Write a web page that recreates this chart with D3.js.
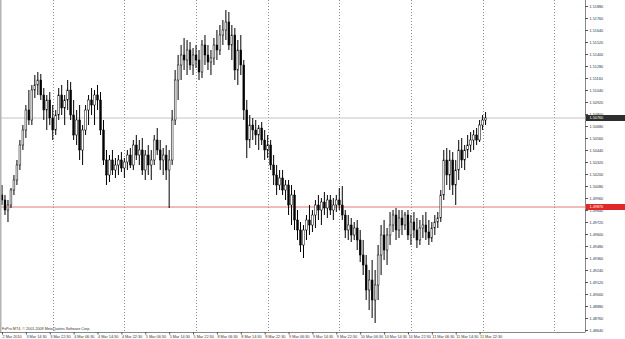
<!DOCTYPE html>
<html><head><meta charset="utf-8">
<script src="https://cdn.jsdelivr.net/npm/d3@7"></script>
<style>html,body{margin:0;padding:0;background:#fff;overflow:hidden}</style>
</head><body><svg id="c" width="625" height="339"></svg>
<script>
// GBPUSD H1, 2 Mar - 11 Mar 2010
const opens=[
1.4999,1.4994,1.4984,1.4989,1.5004,1.5014,1.5029,1.5049,1.5064,1.5084,
1.5074,1.5104,1.5109,1.5114,1.5099,1.5084,1.5094,1.5076,1.5064,1.5079,
1.5099,1.5086,1.5094,1.5104,1.5079,1.5059,1.5074,1.5044,1.5064,1.5084,
1.5094,1.5089,1.5099,1.5094,1.5064,1.5034,1.5019,1.5034,1.5024,1.5029,
1.5034,1.5026,1.5032,1.5039,1.5029,1.5049,1.5039,1.5044,1.5024,1.5039,
1.5029,1.5034,1.5054,1.5044,1.5034,1.5039,1.5024,1.5034,1.5074,1.5114,
1.5129,1.5139,1.5134,1.5144,1.5129,1.5139,1.5134,1.5122,1.5149,1.5139,
1.5132,1.5136,1.5149,1.5144,1.5159,1.5164,1.5172,1.5149,1.5159,1.5124,
1.5144,1.5129,1.5084,1.5054,1.5069,1.5064,1.5059,1.5066,1.5054,1.5044,
1.5049,1.5029,1.5019,1.5009,1.5016,1.5004,1.5009,1.4989,1.4999,1.4974,
1.4964,1.4949,1.4964,1.4974,1.4969,1.4979,1.4989,1.4984,1.4992,1.4986,
1.4994,1.4984,1.4989,1.4994,1.4989,1.4979,1.4964,1.4969,1.4959,1.4966,
1.4954,1.4939,1.4929,1.4904,1.4914,1.4894,1.4909,1.4939,1.4959,1.4944,
1.4959,1.4969,1.4979,1.4964,1.4976,1.4969,1.4979,1.4959,1.4972,1.4964,
1.4954,1.4966,1.4969,1.4962,1.4956,1.4966,1.4972,1.4976,1.4999,1.5034,
1.5019,1.5034,1.5009,1.5024,1.5044,1.5034,1.5044,1.5049,1.5054,1.5059,
1.5054,1.5069,1.5074];
const highs=[
1.5009,1.4999,1.4994,1.5006,1.5019,1.5034,1.5054,1.5069,1.5089,1.5104,
1.5109,1.5119,1.5122,1.5120,1.5106,1.5099,1.5102,1.5089,1.5084,1.5106,
1.5109,1.5099,1.5114,1.5112,1.5094,1.5084,1.5089,1.5069,1.5089,1.5099,
1.5106,1.5104,1.5109,1.5102,1.5074,1.5044,1.5039,1.5044,1.5036,1.5039,
1.5042,1.5036,1.5044,1.5046,1.5054,1.5059,1.5054,1.5056,1.5044,1.5049,
1.5044,1.5059,1.5066,1.5054,1.5046,1.5049,1.5044,1.5084,1.5124,1.5139,
1.5149,1.5156,1.5154,1.5152,1.5146,1.5149,1.5144,1.5154,1.5159,1.5149,
1.5144,1.5156,1.5164,1.5169,1.5174,1.5184,1.5182,1.5169,1.5166,1.5154,
1.5159,1.5134,1.5094,1.5079,1.5076,1.5074,1.5069,1.5072,1.5064,1.5059,
1.5054,1.5039,1.5029,1.5024,1.5024,1.5014,1.5014,1.5009,1.5004,1.4984,
1.4972,1.4969,1.4979,1.4989,1.4984,1.4994,1.4999,1.4996,1.5002,1.4999,
1.4999,1.4996,1.4999,1.5006,1.5008,1.4984,1.4979,1.4976,1.4972,1.4974,
1.4964,1.4954,1.4939,1.4924,1.4934,1.4924,1.4949,1.4969,1.4974,1.4966,
1.4982,1.4984,1.4986,1.4984,1.4984,1.4982,1.4984,1.4979,1.4982,1.4976,
1.4974,1.4979,1.4982,1.4974,1.4972,1.4979,1.4982,1.5004,1.5044,1.5046,
1.5044,1.5042,1.5034,1.5054,1.5056,1.5049,1.5059,1.5062,1.5064,1.5066,
1.5074,1.5079,1.5082];
const lows=[
1.4989,1.4979,1.4972,1.4986,1.4999,1.5009,1.5024,1.5044,1.5056,1.5069,
1.5069,1.5096,1.5099,1.5094,1.5074,1.5064,1.5069,1.5054,1.5059,1.5074,
1.5079,1.5069,1.5084,1.5074,1.5054,1.5049,1.5034,1.5029,1.5059,1.5069,
1.5079,1.5069,1.5084,1.5059,1.5029,1.5009,1.5012,1.5019,1.5016,1.5019,
1.5022,1.5016,1.5024,1.5026,1.5024,1.5034,1.5029,1.5019,1.5014,1.5019,
1.5014,1.5029,1.5039,1.5024,1.5019,1.5014,1.4986,1.5029,1.5069,1.5094,
1.5114,1.5124,1.5119,1.5124,1.5119,1.5126,1.5114,1.5116,1.5129,1.5124,
1.5119,1.5129,1.5134,1.5139,1.5149,1.5154,1.5144,1.5134,1.5114,1.5109,
1.5119,1.5074,1.5036,1.5046,1.5054,1.5049,1.5044,1.5049,1.5034,1.5036,
1.5024,1.5009,1.4999,1.5004,1.4999,1.4994,1.4979,1.4969,1.4964,1.4954,
1.4942,1.4936,1.4954,1.4959,1.4962,1.4966,1.4974,1.4969,1.4979,1.4976,
1.4979,1.4974,1.4982,1.4984,1.4974,1.4956,1.4954,1.4952,1.4954,1.4944,
1.4932,1.4919,1.4894,1.4884,1.4876,1.4871,1.4894,1.4919,1.4934,1.4929,
1.4949,1.4962,1.4954,1.4956,1.4959,1.4964,1.4954,1.4949,1.4956,1.4946,
1.4949,1.4956,1.4954,1.4949,1.4952,1.4959,1.4966,1.4972,1.4994,1.5009,
1.5004,1.4999,1.4989,1.5014,1.5026,1.5024,1.5036,1.5042,1.5044,1.5049,
1.5052,1.5064,1.5069];
const closes=[
1.4994,1.4984,1.4989,1.5004,1.5014,1.5029,1.5049,1.5064,1.5084,1.5074,
1.5104,1.5109,1.5114,1.5099,1.5084,1.5094,1.5076,1.5064,1.5079,1.5099,
1.5086,1.5094,1.5104,1.5079,1.5059,1.5074,1.5044,1.5064,1.5084,1.5094,
1.5089,1.5099,1.5094,1.5064,1.5034,1.5019,1.5034,1.5024,1.5029,1.5034,
1.5026,1.5032,1.5039,1.5029,1.5049,1.5039,1.5044,1.5024,1.5039,1.5029,
1.5034,1.5054,1.5044,1.5034,1.5039,1.5024,1.5034,1.5074,1.5114,1.5129,
1.5139,1.5134,1.5144,1.5129,1.5139,1.5134,1.5122,1.5149,1.5139,1.5132,
1.5136,1.5149,1.5144,1.5159,1.5164,1.5172,1.5149,1.5159,1.5124,1.5144,
1.5129,1.5084,1.5054,1.5069,1.5064,1.5059,1.5066,1.5054,1.5044,1.5049,
1.5029,1.5019,1.5009,1.5016,1.5004,1.5009,1.4989,1.4999,1.4974,1.4964,
1.4949,1.4964,1.4974,1.4969,1.4979,1.4989,1.4984,1.4992,1.4986,1.4994,
1.4984,1.4989,1.4994,1.4989,1.4979,1.4964,1.4969,1.4959,1.4966,1.4954,
1.4939,1.4929,1.4904,1.4914,1.4894,1.4909,1.4939,1.4959,1.4944,1.4959,
1.4969,1.4979,1.4964,1.4976,1.4969,1.4979,1.4959,1.4972,1.4964,1.4954,
1.4966,1.4969,1.4962,1.4956,1.4966,1.4972,1.4976,1.4999,1.5034,1.5019,
1.5034,1.5009,1.5024,1.5044,1.5034,1.5044,1.5049,1.5054,1.5059,1.5054,
1.5069,1.5074,1.5076];
const timeLabels=["2 Mar 2010","3 Mar 14:30","3 Mar 22:30","4 Mar 06:30","4 Mar 14:30","4 Mar 22:30",
"5 Mar 06:30","5 Mar 14:30","5 Mar 22:30","8 Mar 06:30","8 Mar 14:30","8 Mar 22:30","9 Mar 06:30",
"9 Mar 14:30","9 Mar 22:30","10 Mar 06:30","10 Mar 14:30","10 Mar 22:30","11 Mar 06:30","11 Mar 14:30","11 Mar 22:30"];
const timeLabelBars=[0,8,16,24,32,40,48,56,64,72,80,88,96,104,112,120,128,136,144,152,160];
const daySeparatorBars=[17,41,65,89,113,137,161,185];
const priceTicks=[1.5188,1.5176,1.5164,1.5152,1.5140,1.5128,1.5116,1.5104,1.5092,1.5080,1.5068,1.5056,
1.5044,1.5032,1.5020,1.5008,1.4996,1.4984,1.4972,1.4960,1.4948,1.4936,1.4924,1.4912,1.4900,1.4888,1.4876,1.4864];
const bidPrice=1.5076;
const levelPrice=1.4987;
const copyright="FxPro MT4, \u00A9 2001-2009 MetaQuotes Software Corp.";

const W=625,H=339,plotR=585,plotB=332;
const N=closes.length;
const svg=d3.select("#c");
const x=d3.scaleLinear().domain([0,N-1]).range([2,2+2.985*(N-1)]);
const y=d3.scaleLinear().domain([1.5194,1.4854]).range([0,340]);
const font="'Liberation Sans', Arial, sans-serif";

svg.append("rect").attr("width",W).attr("height",H).attr("fill","#fff");

// day separators
svg.append("g").selectAll("line").data(daySeparatorBars).join("line")
  .attr("x1",d=>Math.round(x(d))+0.5).attr("x2",d=>Math.round(x(d))+0.5)
  .attr("y1",0).attr("y2",plotB)
  .attr("stroke","#707070").attr("stroke-width",0.8).attr("stroke-dasharray","1,2");

// bid line and level line
svg.append("line").attr("x1",0).attr("x2",plotR).attr("y1",y(bidPrice)).attr("y2",y(bidPrice))
  .attr("stroke","#c4c4c4").attr("stroke-width",1);
svg.append("line").attr("x1",0).attr("x2",plotR).attr("y1",y(levelPrice)).attr("y2",y(levelPrice))
  .attr("stroke","#e07a7a").attr("stroke-width",1);

// candles
const idx=d3.range(N);
const cg=svg.append("g");
cg.selectAll("line").data(idx).join("line")
  .attr("x1",i=>x(i)).attr("x2",i=>x(i))
  .attr("y1",i=>y(highs[i])).attr("y2",i=>y(lows[i]))
  .attr("stroke","#000").attr("stroke-width",1);
cg.selectAll("rect").data(idx).join("rect")
  .attr("x",i=>x(i)-0.9).attr("width",1.8)
  .attr("y",i=>y(Math.max(opens[i],closes[i])))
  .attr("height",i=>Math.max(0.6,Math.abs(y(opens[i])-y(closes[i]))))
  .attr("fill",i=>closes[i]>=opens[i]?"#fff":"#000")
  .attr("stroke","#000").attr("stroke-width",0.5);

// left border
svg.append("rect").attr("x",0).attr("y",0).attr("width",1.5).attr("height",plotB).attr("fill","#b4b4b4");

// right price axis
const ya=svg.append("g").attr("transform",`translate(${plotR},0)`)
  .call(d3.axisRight(y).tickValues(priceTicks).tickSize(3).tickPadding(1.5).tickFormat(d3.format(".5f")));
ya.select(".domain").attr("stroke","#888").attr("d",`M0.5,0V${plotB}`);
ya.selectAll(".tick line").attr("stroke","#555");
ya.selectAll("text").attr("font-family",font).attr("font-size",3.8).attr("fill","#333");

// bottom time axis
const xa=svg.append("g").attr("transform",`translate(0,${plotB})`)
  .call(d3.axisBottom(x).tickValues(timeLabelBars).tickSize(2.5).tickPadding(1)
  .tickFormat((d,i)=>timeLabels[i]));
xa.select(".domain").attr("stroke","#888").attr("d",`M0,0.5H${plotR+0.5}`);
xa.selectAll(".tick line").attr("stroke","#555");
xa.selectAll("text").attr("text-anchor","start").attr("font-family",font).attr("font-size",3.8).attr("fill","#333");

// price boxes
function priceBox(p,bg){
  const g=svg.append("g").attr("transform",`translate(${plotR+1},${y(p)})`);
  g.append("rect").attr("x",0).attr("y",-3).attr("width",W-plotR-1).attr("height",6).attr("fill",bg);
  g.append("text").attr("x",3.5).attr("y",0).attr("dy","0.35em").attr("font-family",font)
    .attr("font-size",3.8).attr("fill","#fff").text(d3.format(".5f")(p));
}
priceBox(bidPrice,"#2e2e2e");
priceBox(levelPrice,"#e02828");

// copyright
svg.append("text").attr("x",2).attr("y",330).attr("font-family",font).attr("font-size",3.7)
  .attr("fill","#333").text(copyright);
</script></body></html>
